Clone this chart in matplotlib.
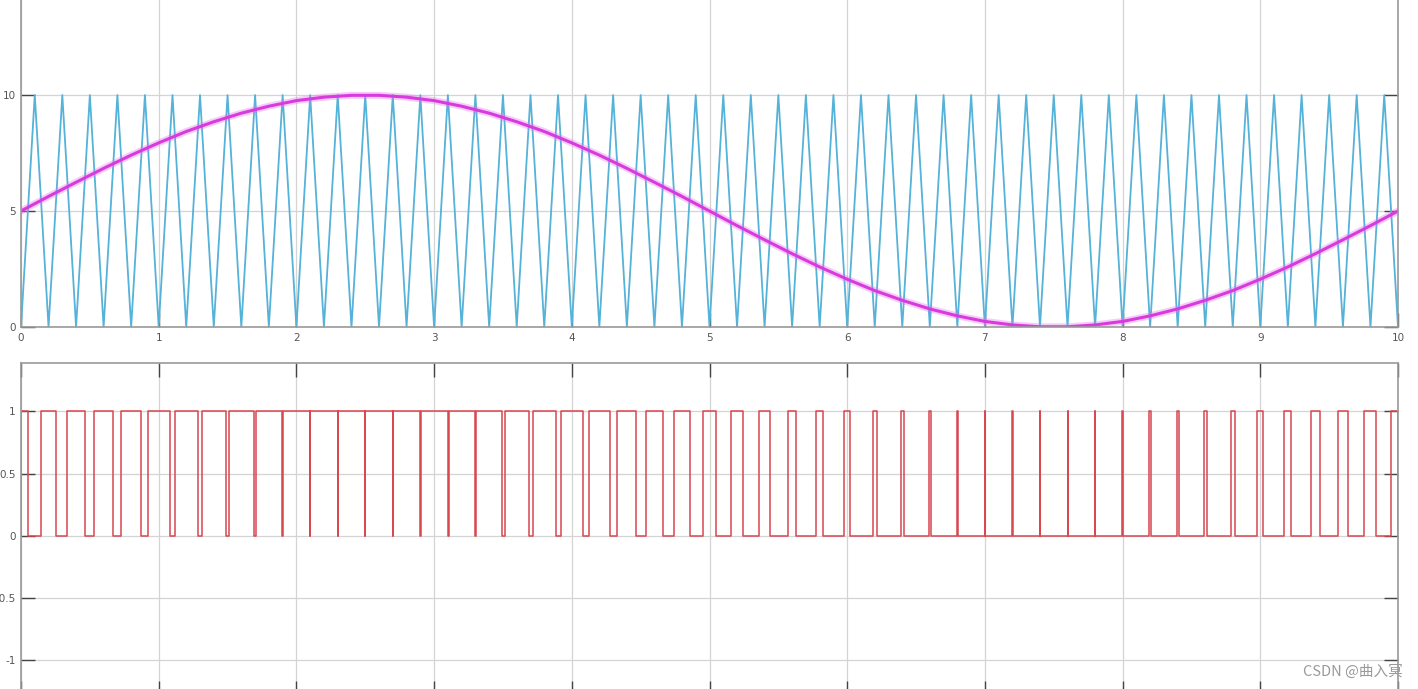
import matplotlib
matplotlib.use("Agg")
import matplotlib.pyplot as plt
import numpy as np

# carrier: triangle vertices every 0.1 s (trough at even steps, peak at odd)
carrier_t = [round(0.1 * i, 1) for i in range(101)]
carrier_v = [0 if i % 2 == 0 else 10 for i in range(101)]

# reference sine read at each carrier trough (t = 0, 0.2, ..., 10)
sine_t = [round(0.2 * i, 1) for i in range(51)]
sine_v = [5.00, 5.63, 6.24, 6.84, 7.41, 7.94, 8.43, 8.85, 9.22, 9.52,
          9.76, 9.91, 9.99, 9.99, 9.91, 9.76, 9.52, 9.22, 8.85, 8.43,
          7.94, 7.41, 6.84, 6.24, 5.63, 5.00, 4.37, 3.76, 3.16, 2.59,
          2.06, 1.57, 1.15, 0.78, 0.48, 0.24, 0.09, 0.01, 0.01, 0.09,
          0.24, 0.48, 0.78, 1.15, 1.57, 2.06, 2.59, 3.16, 3.76, 4.37, 5.00]

top_yticks = [0, 5, 10]
bot_yticks = [-1, -0.5, 0, 0.5, 1]
xticks = list(range(11))

W, H = 1418, 689
fig = plt.figure(figsize=(W / 100, H / 100), dpi=100)

def style(ax):
    ax.set_xlim(0, 10)
    ax.set_xticks(xticks)
    ax.grid(True, color="#d4d4d4", lw=0.9)
    ax.set_axisbelow(True)
    ax.tick_params(direction="in", length=10, width=1, color="#444444",
                   labelsize=7.5, labelcolor="#555555", pad=4,
                   left=True, right=True, top=True, bottom=True)
    for s in ax.spines.values():
        s.set_color("#999999")
        s.set_linewidth(1.2)

x0 = 21 / W
w = (1398 - 21) / W

# top: carrier + sine (axes top runs past the image edge, as in the crop)
extra = 25
ax1 = fig.add_axes([x0, (H - 327) / H, w, (327 + extra) / H])
style(ax1)
ax1.set_ylim(0, 14.1 + extra / 23.2)
ax1.set_yticks(top_yticks)
ax1.set_yticklabels([str(v) for v in top_yticks])
ax1.plot(carrier_t, carrier_v, color="#55b2d8", lw=1.3)
ax1.plot(sine_t, sine_v, color="#e870f0", lw=5, alpha=0.35, solid_capstyle="round")
ax1.plot(sine_t, sine_v, color="#d83ade", lw=2.2, solid_capstyle="round")

# bottom: PWM pulses centred on each carrier trough, width from the sine level
px, py = [], []
for t, s in zip(sine_t, sine_v):
    h = 0.1 * s / 10
    a, b = max(0, t - h), min(10, t + h)
    px += [a, a, b, b]
    py += [0, 1, 1, 0]

top2 = 362.7
below = 6
ax2 = fig.add_axes([x0, -below / H, w, (H - top2 + below) / H])
style(ax2)
ax2.set_ylim(-1.23 - below / 124.5, 1.39)
ax2.set_yticks(bot_yticks)
ax2.set_yticklabels(["-1", "-0.5", "0", "0.5", "1"])
ax2.tick_params(labelbottom=False)
ax2.plot(px, py, color="#d9474f", lw=1.1)

fig.text(1303 / W, (H - 672) / H, "CSDN @曲入冥", fontsize=10.5, color="#999999",
         family=["Noto Sans CJK SC", "DejaVu Sans"], ha="left", va="center")

fig.savefig("out.png", dpi=100)
